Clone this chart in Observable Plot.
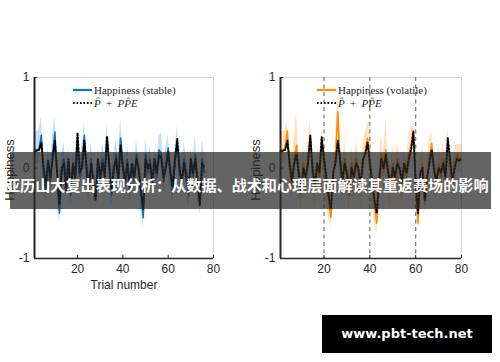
<!DOCTYPE html>
<html>
<head>
<meta charset="utf-8">
<script src="https://cdn.jsdelivr.net/npm/d3@7"></script>
<script src="https://cdn.jsdelivr.net/npm/@observablehq/plot@0.6"></script>
<style>
  html, body { margin: 0; padding: 0; background: #fff; }
  #wrap { position: relative; width: 500px; height: 362px; overflow: hidden; background: #fff; }
  .panel { position: absolute; top: 0; width: 250px; height: 300px; }
  .legend { position: absolute; font-family: "Liberation Serif", serif; font-size: 11px; color: #262626; }
  .legend .row { position: absolute; left: 0; white-space: nowrap; height: 12px; line-height: 12px; }
  .legend svg { position: absolute; left: 0; top: 0; }
  .legend span { position: absolute; left: 21px; top: 0; }
  .ylab { position: absolute; left: 10px; top: 170px; width: 0; height: 0; }
  .ylab span { position: absolute; left: 0; top: 0; transform: translate(-50%, -50%) rotate(-90deg); white-space: nowrap;
    font-family: "Liberation Sans", Arial, sans-serif; font-size: 13px; color: #262626; line-height: 14px; }
  #banner { position: absolute; left: 10px; top: 152px; width: 481px; height: 57px; background: rgba(40,40,40,0.72); }
  #bannerText { position: absolute; left: 5px; top: 174px; white-space: nowrap; color: #fff; font-family: "Noto Sans CJK SC", sans-serif; font-weight: bold; font-size: 15px; line-height: 20px; }
  #mark { position: absolute; left: 322px; top: 315px; width: 170px; height: 38px; background: #000; color: #fff; font-family: "DejaVu Sans", sans-serif; font-weight: bold; font-size: 13px; line-height: 38px; text-align: center; }
</style>
</head>
<body>
<div id="wrap">
  <div class="panel" id="left" style="left:0px"></div>
  <div class="panel" id="right" style="left:246px"></div>
  <div id="banner"></div>
  <div id="bannerText">亚历山大复出表现分析：从数据、战术和心理层面解读其重返赛场的影响</div>
  <div id="mark">www.pbt-tech.net</div>
</div>
<script>
// ---- data ----
const xTicks = [20, 40, 60, 80];
const yTicks = [-1, 0, 1];
const switchTrials = [20, 40, 60];

const stableHappiness = [0.20,0.20,0.21,0.36,-0.05,-0.25,0.05,-0.15,0.15,0.40,
  -0.10,-0.50,-0.05,0.10,-0.20,0.05,-0.30,0.00,-0.15,0.28,
  -0.10,0.05,0.36,-0.05,-0.25,0.10,-0.20,-0.30,0.05,-0.15,
  0.10,-0.05,0.32,0.00,-0.30,-0.05,0.15,-0.10,0.33,0.05,
  -0.20,0.10,-0.25,0.00,-0.15,0.15,-0.05,-0.30,-0.55,0.15,
  -0.05,0.10,-0.20,0.05,-0.10,0.20,0.15,-0.15,0.05,0.22,
  -0.10,-0.25,0.05,0.30,-0.05,-0.20,0.10,-0.05,-0.30,0.05,
  -0.10,0.15,-0.20,-0.38,0.10,-0.05];
const stablePredicted = [0.18,0.19,0.20,0.28,0.00,-0.20,0.08,-0.10,0.10,0.30,
  -0.05,-0.40,0.00,0.05,-0.25,0.10,-0.25,0.05,-0.10,0.39,
  -0.05,0.00,0.30,0.00,-0.20,0.05,-0.15,-0.35,0.10,-0.10,
  0.05,-0.10,0.35,0.05,-0.25,0.00,0.10,-0.15,0.25,0.00,
  -0.15,0.05,-0.20,0.05,-0.10,0.10,0.00,-0.25,-0.45,0.10,
  0.00,0.05,-0.15,0.10,-0.05,0.15,0.10,-0.10,0.00,0.18,
  -0.05,-0.20,0.10,0.32,0.00,-0.15,0.05,-0.10,-0.25,0.10,
  -0.05,0.10,-0.15,-0.41,0.05,0.00];
const stableUpper = [0.40,0.40,0.42,0.57,0.12,-0.05,0.22,0.05,0.35,0.57,
  0.08,-0.30,0.15,0.28,0.00,0.22,-0.10,0.18,0.05,0.42,
  0.08,0.25,0.50,0.15,-0.05,0.28,0.00,-0.12,0.22,0.05,
  0.28,0.15,0.48,0.18,-0.10,0.15,0.32,0.10,0.53,0.22,
  0.00,0.28,-0.05,0.18,0.05,0.30,0.12,-0.10,-0.35,0.33,
  0.12,0.25,0.00,0.22,0.10,0.35,0.39,0.05,0.22,0.37,
  0.10,-0.05,0.22,0.46,0.15,0.00,0.28,0.15,-0.10,0.22,
  0.10,0.36,0.00,-0.18,0.31,0.15];
const stableLower = [0.05,0.05,0.06,0.20,-0.20,-0.40,-0.10,-0.30,0.00,0.22,
  -0.25,-0.62,-0.20,-0.05,-0.35,-0.10,-0.45,-0.15,-0.30,0.12,
  -0.25,-0.10,0.20,-0.20,-0.40,-0.05,-0.35,-0.45,-0.10,-0.30,
  -0.05,-0.20,0.16,-0.15,-0.45,-0.20,0.00,-0.25,0.16,-0.10,
  -0.35,-0.05,-0.40,-0.15,-0.30,0.00,-0.20,-0.45,-0.66,0.00,
  -0.20,-0.05,-0.35,-0.10,-0.25,0.05,0.00,-0.30,-0.10,0.07,
  -0.25,-0.40,-0.10,0.15,-0.20,-0.35,-0.05,-0.20,-0.45,-0.10,
  -0.25,0.00,-0.35,-0.52,-0.05,-0.20];

const volatileHappiness = [0.20,0.20,0.22,0.41,0.00,-0.20,0.10,0.25,-0.10,-0.30,
  0.05,-0.15,0.10,0.35,-0.05,-0.25,0.00,-0.10,0.30,0.05,
  -0.20,-0.35,-0.55,-0.10,0.10,0.62,0.05,-0.20,0.10,-0.10,
  -0.30,0.05,-0.15,0.10,-0.05,-0.25,0.05,0.20,0.33,0.10,
  -0.20,-0.40,-0.61,-0.20,0.15,-0.05,0.20,-0.10,-0.25,0.05,
  -0.15,0.10,-0.05,-0.20,0.00,-0.10,0.15,0.25,0.42,-0.20,
  -0.61,-0.10,0.05,-0.40,-0.15,0.10,0.27,-0.05,-0.20,0.05,
  -0.10,0.10,-0.15,0.25,0.05,-0.20,0.05,0.15,0.10,0.12];
const volatilePredicted = [0.18,0.19,0.20,0.30,0.05,-0.15,0.05,0.15,-0.05,-0.25,
  0.00,-0.10,0.05,0.36,0.00,-0.20,0.05,-0.05,0.34,0.10,
  -0.10,-0.30,-0.45,-0.05,0.05,0.30,0.10,-0.15,0.05,-0.05,
  -0.25,0.00,-0.10,0.05,0.00,-0.20,0.10,0.15,0.28,0.05,
  -0.15,-0.35,-0.50,-0.15,0.10,0.00,0.15,-0.05,-0.20,0.00,
  -0.10,0.05,0.00,-0.15,0.05,-0.05,0.10,0.20,0.40,-0.15,
  -0.50,-0.05,0.00,-0.35,-0.10,0.05,0.20,0.00,-0.15,0.00,
  -0.05,0.05,-0.10,0.33,0.10,-0.15,0.00,0.10,0.08,0.10];
const volatileUpper = [0.40,0.40,0.42,0.53,0.20,0.00,0.35,0.64,0.15,-0.10,
  0.25,0.05,0.30,0.53,0.15,-0.05,0.20,0.10,0.44,0.25,
  0.00,-0.15,-0.40,0.10,0.30,0.84,0.25,0.00,0.30,0.10,
  -0.10,0.25,0.05,0.30,0.15,-0.05,0.25,0.40,0.49,0.51,
  0.00,-0.20,-0.45,0.00,0.40,0.15,0.57,0.10,-0.05,0.25,
  0.05,0.30,0.15,0.00,0.20,0.10,0.35,0.45,0.53,0.00,
  -0.45,0.10,0.25,-0.20,0.05,0.30,0.40,0.15,0.00,0.25,
  0.10,0.30,0.05,0.45,0.25,0.00,0.25,0.26,0.26,0.26];
const volatileLower = [0.05,0.05,0.06,0.25,-0.20,-0.40,-0.10,0.05,-0.30,-0.50,
  -0.15,-0.35,-0.10,0.15,-0.25,-0.45,-0.20,-0.30,0.10,-0.15,
  -0.40,-0.55,-0.66,-0.30,-0.10,0.40,-0.15,-0.40,-0.10,-0.30,
  -0.50,-0.15,-0.35,-0.10,-0.25,-0.45,-0.15,0.00,0.15,-0.10,
  -0.40,-0.60,-0.74,-0.40,-0.05,-0.25,0.00,-0.30,-0.45,-0.15,
  -0.35,-0.10,-0.25,-0.40,-0.20,-0.30,-0.05,0.05,0.25,-0.40,
  -0.70,-0.30,-0.15,-0.50,-0.35,-0.10,0.10,-0.25,-0.40,-0.15,
  -0.30,-0.10,-0.35,0.05,-0.15,-0.40,-0.15,-0.05,-0.05,-0.05];

// ---- drawing ----
function makePanel(el, cfg) {
  const rows = cfg.h.map((v, i) => ({t: i + 1, h: v, p: cfg.p[i], hi: cfg.hi[i], lo: cfg.lo[i]}));
  const ink = "#262626";
  const chart = Plot.plot({
    width: 250, height: 300,
    marginLeft: 34, marginRight: cfg.marginRight, marginTop: 77, marginBottom: 42,
    style: {fontFamily: "Liberation Sans, Arial, sans-serif", fontSize: "12px", color: ink, background: "transparent"},
    x: {domain: [1, 80]},
    y: {domain: [-1, 1]},
    marks: [
      Plot.frame({stroke: "#d4d4d4", strokeWidth: 1}),
      Plot.areaY(rows, {x: "t", y1: "lo", y2: "hi", fill: cfg.band, fillOpacity: 0.45, curve: "linear"}),
      cfg.switches ? Plot.ruleX(cfg.switches, {stroke: "#777", strokeWidth: 1.2, strokeDasharray: "4,3.5"}) : null,
      Plot.lineY(rows, {x: "t", y: "h", stroke: cfg.color, strokeWidth: 1.6}),
      Plot.lineY(rows, {x: "t", y: "p", stroke: "#000", strokeWidth: 2, strokeDasharray: "1.6,1.9"}),
      Plot.ruleY([-1], {stroke: ink, strokeWidth: 1.5}),
      Plot.ruleX([1], {stroke: ink, strokeWidth: 2}),
      Plot.ruleX(xTicks, {y1: -1, y2: -0.965, stroke: ink, strokeWidth: 1}),
      Plot.ruleY(yTicks, {x1: 1, x2: 2.4, stroke: ink, strokeWidth: 1}),
      Plot.axisX({ticks: xTicks, tickSize: 0, tickPadding: 6, tickFormat: d => String(d), fontSize: 12,
        label: cfg.xLabel, labelAnchor: "center", labelOffset: 30, labelArrow: "none"}),
      Plot.axisY({ticks: yTicks, tickSize: 0, tickPadding: 5, tickFormat: d => String(d), fontSize: 12, label: null})
    ]
  });
  el.appendChild(chart);

  const yl = document.createElement("div");
  yl.className = "ylab";
  yl.innerHTML = "<span>Happiness</span>";
  el.appendChild(yl);

  const lg = document.createElement("div");
  lg.className = "legend";
  lg.style.left = cfg.legendLeft + "px";
  lg.style.top = "84px";
  lg.innerHTML =
    `<div class="row" style="top:0px"><svg width="20" height="12"><line x1="0" x2="19" y1="6" y2="6" stroke="${cfg.color}" stroke-width="2.2"/></svg><span>${cfg.legendText}</span></div>` +
    `<div class="row" style="top:12.5px"><svg width="20" height="12"><line x1="0" x2="19" y1="6" y2="6" stroke="#000" stroke-width="2" stroke-dasharray="1.6,1.9"/></svg><span style="font-style:italic;word-spacing:2px">P̂ + PP̂E</span></div>`;
  el.appendChild(lg);
}

makePanel(document.getElementById("left"), {
  h: stableHappiness, p: stablePredicted, hi: stableUpper, lo: stableLower,
  color: "#0a72c4", band: "#7fb8e6", marginRight: 37, xLabel: "Trial number",
  legendText: "Happiness (stable)", legendLeft: 73, switches: null
});
makePanel(document.getElementById("right"), {
  h: volatileHappiness, p: volatilePredicted, hi: volatileUpper, lo: volatileLower,
  color: "#ff8c00", band: "#ffbf73", marginRight: 35, xLabel: null,
  legendText: "Happiness (volatile)", legendLeft: 71, switches: switchTrials
});

// fit the banner headline to the span it occupies in the reference (x 5 → 489)
const bt = document.getElementById("bannerText");
const w0 = bt.getBoundingClientRect().width;
if (w0 > 0) bt.style.fontSize = (15 * 484 / w0).toFixed(2) + "px";
</script>
</body>
</html>
